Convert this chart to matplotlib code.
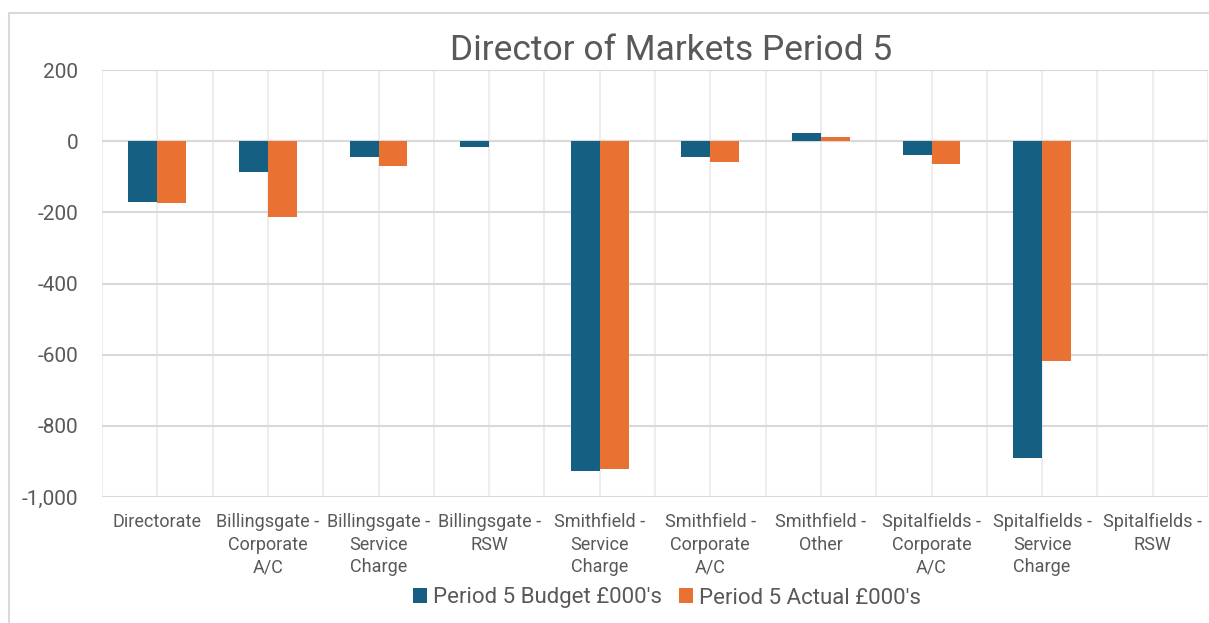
import matplotlib
matplotlib.use("Agg")
import matplotlib.pyplot as plt
from matplotlib.patches import Rectangle
from matplotlib.ticker import FuncFormatter, MultipleLocator
import numpy as np

categories = [
    "Directorate",
    "Billingsgate -\nCorporate\nA/C",
    "Billingsgate -\nService\nCharge",
    "Billingsgate -\nRSW",
    "Smithfield -\nService\nCharge",
    "Smithfield -\nCorporate\nA/C",
    "Smithfield -\nOther",
    "Spitalfields -\nCorporate\nA/C",
    "Spitalfields -\nService\nCharge",
    "Spitalfields -\nRSW",
]
budget = [-170, -88, -44, -16, -926, -45, 24, -39, -890, 0]
actual = [-174, -213, -69, 0, -920, -59, 12, -65, -618, 0]
series_names = ["Period 5 Budget £000's", "Period 5 Actual £000's"]
title = "Director of Markets Period 5"

blue = "#156082"
orange = "#E97132"
grid_c = "#D9D9D9"
text_c = "#595959"

plt.rcParams['font.family'] = ['Roboto', 'DejaVu Sans']

fig = plt.figure(figsize=(12.09, 6.23), dpi=100)
fig.patch.set_facecolor("white")
# outer chart border
fig.patches.append(Rectangle((9/1209, -0.05), 1.2, (1-13/623)+0.05,
                             transform=fig.transFigure, fill=False,
                             edgecolor="#D9D9D9", linewidth=1.5))

ax = fig.add_axes([102/1209, 1-497/623, 1106/1209, (497-70)/623])
x = np.arange(len(categories))
w = 0.262
ax.bar(x - w/2, budget, width=w, color=blue, zorder=3, label=series_names[0])
ax.bar(x + w/2, actual, width=w, color=orange, zorder=3, label=series_names[1])

ax.set_xlim(-0.5, len(categories) - 0.5)
ax.set_ylim(-1000, 200)
ax.yaxis.set_major_locator(MultipleLocator(200))
ax.yaxis.set_major_formatter(FuncFormatter(lambda v, p: f"{int(v):,}"))

ax.set_xticks(x)
ax.set_xticklabels(categories, fontsize=13, color=text_c, linespacing=1.33)
ax.tick_params(axis='x', which='both', length=0, pad=11.5)
ax.tick_params(axis='y', length=0, labelsize=15, labelcolor=text_c, pad=17)

# vertical gridlines at category boundaries and centres
for gx in np.arange(-0.5, len(categories), 0.5):
    ax.axvline(gx, color="#EDEDED", linewidth=1.5, zorder=0)
ax.grid(axis='y', color=grid_c, linewidth=1.5, zorder=1)
ax.grid(axis='x', visible=False)
for s in ax.spines.values():
    s.set_visible(False)
ax.axhline(0, color=grid_c, linewidth=1.5, zorder=1)

fig.text(671/1209, 1-50/623, title, ha='center', va='center', fontsize=25.5, color=text_c)

leg = fig.legend(loc='center', bbox_to_anchor=(667/1209, 1-598/623), ncol=2,
                 frameon=False, fontsize=16, handlelength=0.63, handleheight=0.63,
                 handletextpad=0.27, columnspacing=0.8)
for t in leg.get_texts():
    t.set_color(text_c)

fig.savefig("out.png", dpi=100, facecolor="white")
